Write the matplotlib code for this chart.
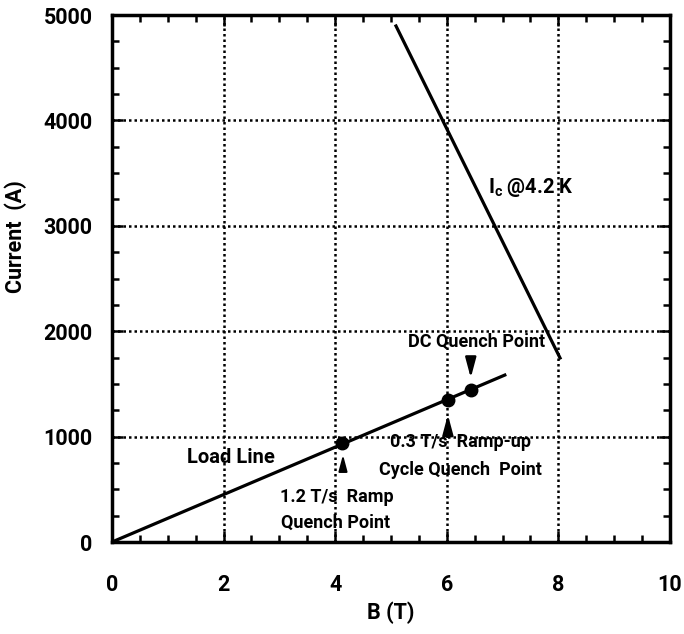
import matplotlib.pyplot as plt
import numpy as np

# load line and critical current line (B in T, I in A)
load_B = [0, 7.04]
load_I = [0, 1584]
ic_B = [5.09, 8.03]
ic_I = [4896, 1746]

# quench points
q_B = [4.12, 6.02, 6.43]
q_I = [935, 1347, 1442]

xticks = [0, 2, 4, 6, 8, 10]
yticks = [0, 1000, 2000, 3000, 4000, 5000]

plt.rcParams['font.family'] = ["Roboto", "DejaVu Sans"]
plt.rcParams['font.weight'] = 'bold'
plt.rcParams['mathtext.fontset'] = 'custom'
plt.rcParams['mathtext.rm'] = 'Roboto:bold'
plt.rcParams['mathtext.it'] = 'Roboto:bold'

fig = plt.figure(figsize=(6.84, 6.34), dpi=100)
ax = fig.add_axes([0.1637, 0.1451, 0.8158, 0.8312])

ax.plot(load_B, load_I, color="black", lw=2.3)
ax.plot(ic_B, ic_I, color="black", lw=2.3)
ax.plot(q_B, q_I, "o", color="black", ms=9)

# arrows at the quench points
arr = dict(arrowstyle="-|>,head_length=0.75,head_width=0.2", color="black",
           lw=1.8, mutation_scale=16)
ax.annotate("", xy=(6.43, 1530), xytext=(6.43, 1760), arrowprops=arr)
ax.annotate("", xy=(6.02, 1235), xytext=(6.02, 1030), arrowprops=arr)
ax.annotate("", xy=(4.14, 855), xytext=(4.14, 680),
            arrowprops=dict(arrowstyle="-|>,head_length=0.75,head_width=0.2",
                            color="black", lw=1.4, mutation_scale=13))

ax.text(6.74, 3360, r"I$_{\rm c}$ @4.2 K", fontsize=14.5, ha="left", va="center")
ax.text(6.54, 1900, "DC Quench Point", fontsize=13, ha="center", va="center")
ax.text(2.13, 806, "Load Line", fontsize=14.5, ha="center", va="center")
ax.text(6.25, 950, "0.3 T/s  Ramp-up", fontsize=13, ha="center", va="center")
ax.text(6.25, 683, "Cycle Quench  Point", fontsize=13, ha="center", va="center")
ax.text(4.03, 427, "1.2 T/s  Ramp", fontsize=13, ha="center", va="center")
ax.text(4.01, 180, "Quench Point", fontsize=13, ha="center", va="center")

ax.set_xlim(0, 10)
ax.set_ylim(0, 5000)
ax.set_xticks(xticks)
ax.set_yticks(yticks)
ax.set_xticks(np.arange(0, 10.01, 0.5), minor=True)
ax.set_yticks(np.arange(0, 5001, 250), minor=True)
ax.tick_params(which="both", direction="in", top=True, right=True, width=1.8)
ax.tick_params(which="major", length=8, labelsize=15.5)
ax.tick_params(which="minor", length=5)
ax.tick_params(axis="x", which="major", pad=23)
ax.tick_params(axis="y", which="major", pad=14)
for lab in ax.get_xticklabels() + ax.get_yticklabels():
    lab.set_fontweight("bold")
ax.grid(True, which="major", linestyle=(0, (1, 1.2)), color="black", lw=1.8)
for s in ax.spines.values():
    s.set_linewidth(2.5)

ax.set_xlabel("B (T)", fontsize=15.5, fontweight="bold")
ax.set_ylabel("Current  (A)", fontsize=15.5, fontweight="bold")
ax.xaxis.set_label_coords(0.5, -0.112)
ax.yaxis.set_label_coords(-0.152, 0.579)

fig.savefig("out.png", dpi=100)
